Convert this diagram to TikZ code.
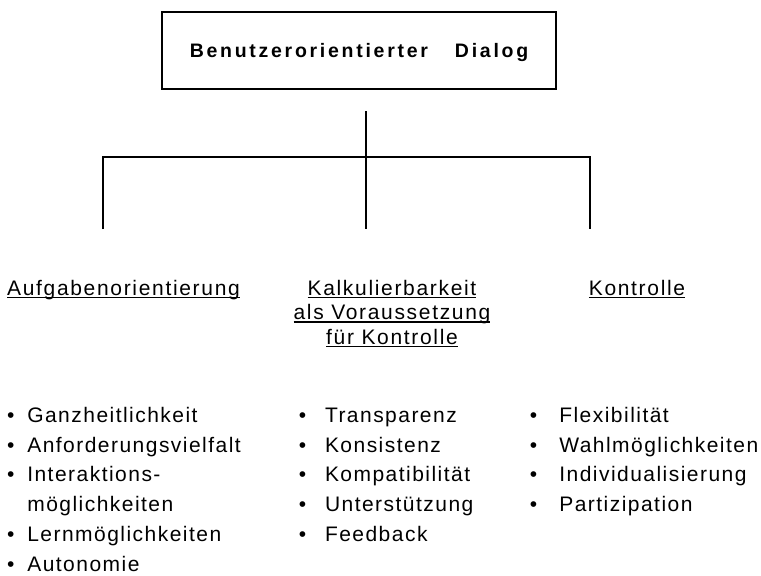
\documentclass[tikz,border=0pt]{standalone}
\usepackage{fontspec}
\setmainfont{Liberation Sans}[LetterSpace=7]
\newcommand\unterstr[1]{\setbox0\hbox{#1}\rlap{\rule[-3pt]{\wd0}{1.3pt}}\box0}
\newcommand\punkte[2]{\begin{tabular}[t]{@{}c@{\hspace{#1}}l@{}}#2\end{tabular}}
\begin{document}
\begin{tikzpicture}[x=1pt,y=-1pt,line width=1.5pt,
  titel/.style={draw,minimum width=394pt,minimum height=77pt,text depth=0pt,
    font=\fontsize{19.5}{24.5}\selectfont\bfseries\addfontfeature{LetterSpace=14}},
  zweig/.style={inner sep=0pt,anchor=base,font=\fontsize{21}{24.5}\selectfont\addfontfeature{LetterSpace=8}},
  liste/.style={inner sep=0pt,anchor=base west,font=\fontsize{21}{29.7}\selectfont}]
 \useasboundingbox (0,0) rectangle (761,576);
 \node[titel] (dialog) at (359,50.5) {Benutzerorientierter\hspace{27pt}Dialog};
 \coordinate (stamm) at (366,111);
 \coordinate (links) at (103,157);
 \coordinate (rechts) at (590,157);
 \coordinate (lu) at (103,229);
 \coordinate (mu) at (366,229);
 \coordinate (ru) at (590,229);
 \draw (stamm) -- (mu);
 \draw[line join=miter] (lu) -- (links) -- (rechts) -- (ru);
 \node[zweig] (aufgabe) at (123.5,295) {\unterstr{Aufgabenorientierung}};
 \node[zweig] (kalkul) at (392,295) {\begin{tabular}[t]{@{}c@{}}\unterstr{Kalkulierbarkeit}\\
   \unterstr{als Voraussetzung}\\ \unterstr{für Kontrolle}\end{tabular}};
 \node[zweig] (kontrolle) at (637,295) {\unterstr{Kontrolle}};
 \node[liste] (aufgabeliste) at (6.3,422.5) {\punkte{12.9pt}{\textbullet & Ganzheitlichkeit\\
   \textbullet & Anforderungsvielfalt\\ \textbullet & Interaktions-\\ & möglichkeiten\\
   \textbullet & Lernmöglichkeiten\\ \textbullet & Autonomie}};
 \node[liste] (kalkulliste) at (298,422.5) {\punkte{18.9pt}{\textbullet & Transparenz\\
   \textbullet & Konsistenz\\ \textbullet & Kompatibilität\\ \textbullet & Unterstützung\\
   \textbullet & Feedback}};
 \node[liste] (kontrollliste) at (529,422.5) {\punkte{22.2pt}{\textbullet & Flexibilität\\
   \textbullet & Wahlmöglichkeiten\\ \textbullet & Individualisierung\\ \textbullet & Partizipation}};
\end{tikzpicture}
\end{document}
